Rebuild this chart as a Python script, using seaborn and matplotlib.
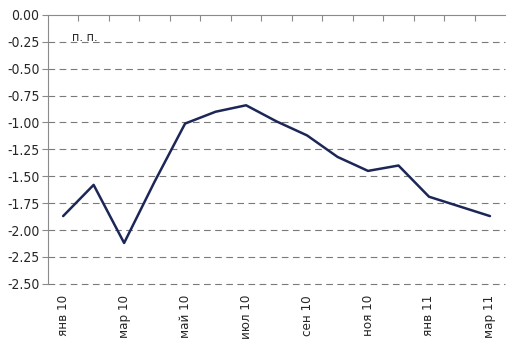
import matplotlib
matplotlib.use('Agg')
import matplotlib.pyplot as plt
import numpy as np
import seaborn as sns
from matplotlib.ticker import FixedLocator

sns.set_style('white')
plt.rcParams['font.family'] = ['Liberation Sans Narrow', 'DejaVu Sans']
plt.rcParams['font.stretch'] = 'condensed'
plt.rcParams['axes.unicode_minus'] = False

# monthly values, jan 2010 - mar 2011
months = ['янв 10', 'фев 10', 'мар 10', 'апр 10', 'май 10', 'июн 10', 'июл 10',
          'авг 10', 'сен 10', 'окт 10', 'ноя 10', 'дек 10', 'янв 11', 'фев 11', 'мар 11']
values = [-1.87, -1.58, -2.12, -1.55, -1.01, -0.90, -0.84,
          -0.99, -1.12, -1.32, -1.45, -1.40, -1.69, -1.78, -1.87]
y_ticks = [0.00, -0.25, -0.50, -0.75, -1.00, -1.25, -1.50, -1.75, -2.00, -2.25, -2.50]
unit_label = 'п. п.'

idx = np.arange(len(months))

fig = plt.figure(figsize=(5.15, 3.47), dpi=100)
ax = fig.add_axes([0.093, 0.182, 0.888, 0.775])

# dashed grid lines
for t in y_ticks[1:]:
    ax.axhline(t, color='#7a7a7a', lw=0.8, ls=(0, (6, 4)), zorder=1, clip_on=False)

sns.lineplot(x=idx, y=values, color='#1c2757', lw=1.8, ax=ax, zorder=3)

ax.set_xlim(-0.5, len(months) - 0.5)
ax.set_ylim(-2.5, 0.0)
ax.set_yticks(y_ticks)
ax.set_yticklabels(['%.2f' % t for t in y_ticks], fontsize=10)

ax.xaxis.set_major_locator(FixedLocator(idx[::2]))
ax.set_xticklabels([months[i] for i in idx[::2]], rotation=90, fontsize=9.5)
ax.xaxis.set_minor_locator(FixedLocator(idx[:-1] + 0.5))
ax.tick_params(axis='x', which='major', length=0, pad=8)
ax.tick_params(axis='x', which='minor', top=True, bottom=False, direction='in',
               length=4, color='#8a8a8a', width=0.8)
ax.tick_params(axis='y', left=True, length=4, color='#8a8a8a', width=0.8, pad=2)

for s in ['right', 'bottom']:
    ax.spines[s].set_visible(False)
for s in ['left', 'top']:
    ax.spines[s].set_color('#8a8a8a')
    ax.spines[s].set_linewidth(0.8)

ax.set_xlabel('')
ax.set_ylabel('')
ax.text(0.053, 0.915, unit_label, transform=ax.transAxes, fontsize=9, va='center')

fig.savefig('out.png', dpi=100)
